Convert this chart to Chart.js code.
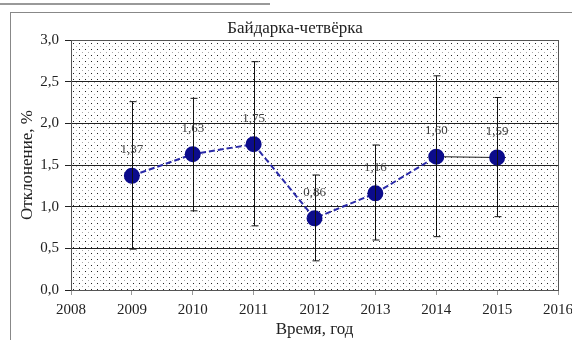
<!DOCTYPE html>
<html>
<head>
<meta charset="utf-8">
<script src="https://cdn.jsdelivr.net/npm/chart.js@4/dist/chart.umd.min.js"></script>
<style>
  body { margin:0; background:#fff; }
  #wrap { position:absolute; left:0; top:0; width:572px; height:340px; }
</style>
</head>
<body>
<div id="wrap"><canvas id="grafica" width="572" height="340"></canvas></div>
<script>
// данные
var years = [2009, 2010, 2011, 2012, 2013, 2014, 2015];
var valores = [1.37, 1.63, 1.75, 0.86, 1.16, 1.60, 1.59];
var errArriba = [2.26, 2.30, 2.74, 1.38, 1.74, 2.57, 2.31];
var errAbajo = [0.49, 0.95, 0.77, 0.35, 0.60, 0.64, 0.88];
var xTicks = [2008, 2009, 2010, 2011, 2012, 2013, 2014, 2015, 2016];
var yTicks = [0, 0.5, 1, 1.5, 2, 2.5, 3];
var titulo = 'Байдарка-четвёрка';

var fuente = "'Liberation Serif', 'DejaVu Serif', serif";

function coma(v, d){
    return v.toFixed(d).replace('.', ',');
}

function patron(){
    var c = document.createElement('canvas');
    c.width = 6; c.height = 6;
    var g = c.getContext('2d');
    g.fillStyle = '#ffffff';
    g.fillRect(0, 0, 6, 6);
    g.fillStyle = '#222';
    g.fillRect(1, 1, 1, 1);
    g.fillStyle = '#aaa';
    g.fillRect(4, 4, 1, 1);
    return g.createPattern(c, 'repeat');
}

var fondo = {
    id: 'fondo',
    beforeDraw: function(chart){
        var ctx = chart.ctx, a = chart.chartArea;
        ctx.save();
        // marco exterior
        ctx.strokeStyle = '#999';
        ctx.lineWidth = 2;
        ctx.beginPath();
        ctx.moveTo(0, 4); ctx.lineTo(270, 4);
        ctx.stroke();
        ctx.lineWidth = 1;
        ctx.strokeStyle = '#888';
        ctx.strokeRect(10.5, 12.5, 600, 400);
        ctx.fillStyle = patron();
        ctx.fillRect(a.left, a.top, a.right - a.left, a.bottom - a.top);
        // titulo
        ctx.fillStyle = '#222';
        ctx.font = "17px " + fuente;
        ctx.textAlign = 'center';
        ctx.textBaseline = 'middle';
        ctx.fillText(titulo, 295, 29);
        ctx.restore();
    },
    afterDraw: function(chart){
        var ctx = chart.ctx, a = chart.chartArea;
        ctx.save();
        ctx.strokeStyle = '#555';
        ctx.lineWidth = 1;
        ctx.strokeRect(a.left + 0.5, a.top + 0.5, a.right - a.left, a.bottom - a.top);
        ctx.restore();
    }
};

var errores = {
    id: 'errores',
    afterDatasetsDraw: function(chart){
        var ctx = chart.ctx;
        var xs = chart.scales.x, ys = chart.scales.y;
        ctx.save();
        ctx.strokeStyle = '#111';
        ctx.lineWidth = 1;
        for (var i = 0; i < years.length; i++){
            var x = Math.round(xs.getPixelForValue(years[i])) + 0.5;
            var y1 = ys.getPixelForValue(errArriba[i]);
            var y2 = ys.getPixelForValue(errAbajo[i]);
            ctx.beginPath();
            ctx.moveTo(x, y1); ctx.lineTo(x, y2);
            ctx.moveTo(x - 3, y1); ctx.lineTo(x + 4, y1);
            ctx.moveTo(x - 3, y2); ctx.lineTo(x + 4, y2);
            ctx.stroke();
        }
        // etiquetas
        ctx.fillStyle = '#444';
        ctx.font = "13px " + fuente;
        ctx.textAlign = 'center';
        ctx.textBaseline = 'middle';
        for (var j = 0; j < years.length; j++){
            var px = xs.getPixelForValue(years[j]);
            var py = ys.getPixelForValue(valores[j]);
            ctx.fillText(coma(valores[j], 2), px, py - 26);
        }
        ctx.restore();
    }
};

var canva = document.getElementById('grafica').getContext('2d');
var chartB = new Chart(canva, {
    type: 'line',
    data: {
        datasets: [{
            label: titulo,
            data: years.map(function(y, i){ return {x: y, y: valores[i]}; }),
            borderColor: '#2a2aa8',
            borderWidth: 2,
            borderDash: [6, 3],
            pointRadius: 7,
            pointBackgroundColor: '#0c0c8c',
            pointBorderColor: '#0c0c8c',
            tension: 0,
            segment: {
                borderColor: function(c){ return c.p0DataIndex === 5 ? '#222' : undefined; },
                borderDash: function(c){ return c.p0DataIndex === 5 ? [] : undefined; },
                borderWidth: function(c){ return c.p0DataIndex === 5 ? 1 : undefined; }
            }
        }]
    },
    plugins: [fondo, errores],
    options: {
        responsive: false,
        animation: false,
        layout: { padding: { top: 40, right: 14, left: 0, bottom: 0 } },
        plugins: {
            legend: { display: false },
            tooltip: { enabled: false },
            title: { display: false }
        },
        scales: {
            x: {
                type: 'linear',
                min: 2008, max: 2016,
                afterBuildTicks: function(s){ s.ticks = xTicks.map(function(v){ return {value: v}; }); },
                afterFit: function(s){ s.height = 50; s.paddingLeft = 0; s.paddingRight = 0; },
                ticks: {
                    color: '#222',
                    font: { family: fuente, size: 15 },
                    padding: 6,
                    maxRotation: 0,
                    callback: function(v){ return String(v); }
                },
                grid: { drawOnChartArea: false, tickLength: 5, color: '#999' },
                border: { color: '#222' },
                title: {
                    display: true,
                    text: 'Время, год',
                    color: '#222',
                    font: { family: fuente, size: 17 },
                    padding: 0
                }
            },
            y: {
                min: 0, max: 3,
                afterBuildTicks: function(s){ s.ticks = yTicks.map(function(v){ return {value: v}; }); },
                afterFit: function(s){ s.width = 71; s.paddingTop = 0; s.paddingBottom = 0; },
                ticks: {
                    color: '#222',
                    font: { family: fuente, size: 15 },
                    padding: 6,
                    callback: function(v){ return coma(v, 1); }
                },
                grid: { color: '#222', lineWidth: 1, tickLength: 6 },
                border: { color: '#222' },
                title: {
                    display: true,
                    text: 'Отклонение, %',
                    color: '#222',
                    font: { family: fuente, size: 17 },
                    padding: { top: 17, bottom: 0 }
                }
            }
        }
    }
});
</script>
</body>
</html>
